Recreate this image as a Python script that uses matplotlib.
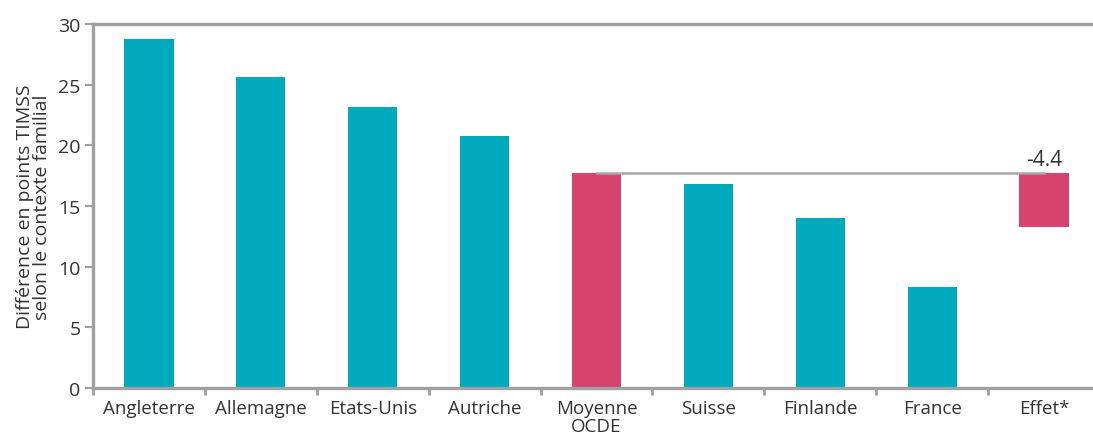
import matplotlib
matplotlib.use("Agg")
import matplotlib.pyplot as plt
import numpy as np

categories = ["Angleterre", "Allemagne", "Etats-Unis", "Autriche", "Moyenne\nOCDE",
              "Suisse", "Finlande", "France", "Effet*"]
values = [28.8, 25.6, 23.2, 20.8, 17.7, 16.8, 14.0, 8.3]
effect = -4.4
oecd_index = 4
yticks = [0, 5, 10, 15, 20, 25, 30]

teal = "#00AABD"
pink = "#D6436E"
spine = "#A0A0A2"
txt = "#333333"

plt.rcParams['font.family'] = ['Open Sans', 'DejaVu Sans']

fig = plt.figure(figsize=(10.93, 4.39), dpi=100)
ax = fig.add_axes([93/1093, 50/439, (1100-93)/1093, (389-25)/439])

x = np.arange(len(categories))
colors = [pink if i == oecd_index else teal for i in range(len(values))]
ax.bar(x[:len(values)], values, width=0.44, color=colors, zorder=2)

oecd = values[oecd_index]
ax.plot([x[oecd_index], x[-1]], [oecd, oecd], color="#A8A8A8", lw=1.8, zorder=3)
ax.bar(x[-1], -effect, bottom=oecd + effect, width=0.44, color=pink, zorder=2)
ax.text(x[-1], oecd + 0.3, f"{effect:.1f}", ha="center", va="bottom",
        fontsize=15, color=txt)

ax.set_xlim(-0.5, 8.5)
ax.set_ylim(0, 30)
ax.set_yticks(yticks)
ax.set_yticklabels([str(v) for v in yticks])
ax.set_xticks(x)
ax.set_xticklabels(categories, linespacing=1.0)
ax.set_xticks(np.arange(-0.5, 9.0, 1.0), minor=True)
ax.tick_params(axis="x", which="major", length=0, pad=8, labelsize=13.5, colors=txt)
ax.tick_params(axis="x", which="minor", length=5, width=2, color=spine)
ax.tick_params(axis="y", length=6, width=1.5, color=spine, labelsize=14, labelcolor=txt, pad=3)

for s in ["left", "bottom", "top", "right"]:
    ax.spines[s].set_color(spine)
    ax.spines[s].set_linewidth(2.4)

ax.set_ylabel("Différence en points TIMSS\nselon le contexte familial", fontsize=14,
              color=txt, linespacing=0.95, labelpad=5)

fig.savefig("out.png", dpi=100)
